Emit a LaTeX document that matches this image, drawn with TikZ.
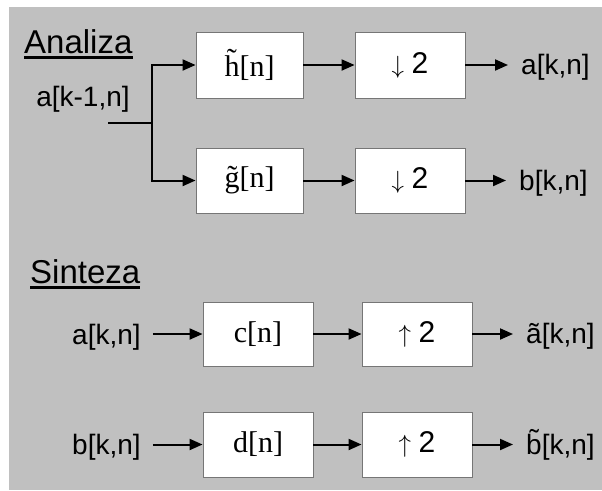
\documentclass[tikz,border=0pt]{standalone}
\usepackage{fontspec}
\setmainfont{Liberation Serif}
\newfontfamily\arialf{Liberation Sans}
\usetikzlibrary{arrows.meta}
\definecolor{bg}{RGB}{192,192,192}
\definecolor{bx}{RGB}{118,118,118}
\newcommand\tl{\char"0303}
\begin{document}
\begin{tikzpicture}[x=1pt,y=-1pt,
  blk/.style={draw=bx, line width=0.9pt, fill=white, minimum width=109pt, minimum height=65pt, inner sep=0pt, font=\fontsize{30}{32}\selectfont},
  lab/.style={inner sep=0pt, font=\arialf\fontsize{28}{30}\selectfont},
  ttl/.style={inner sep=0pt, font=\arialf\fontsize{33}{36}\selectfont},
  arr/.style={line width=2pt, -{Triangle[length=13pt,width=11pt]}},
  ln/.style={line width=2pt}]
\useasboundingbox (0,0) rectangle (602,490);
\fill[bg] (9,7) rectangle (602,490);
% titles
\node[ttl, anchor=base west] (an) at (24,53) {Analiza};
\draw[line width=2.2pt] ([yshift=-4.5pt]an.base west) -- ([yshift=-4.5pt]an.base east);
\node[ttl, anchor=base west] (sy) at (30,283) {Sinteza};
\draw[line width=2.2pt] ([yshift=-4.5pt]sy.base west) -- ([yshift=-4.5pt]sy.base east);
% analysis
\node[lab, anchor=base] (x) at (83,106) {a[k-1,n]};
\node[blk, minimum width=107pt, minimum height=66pt] (h) at (249.5,65) {h\tl[n]};
\node[blk, minimum width=107pt] (g) at (249.5,180.5) {g\tl[n]};
\node[blk, minimum width=110pt, minimum height=66pt] (d1) at (410,65) {$\downarrow$ {\arialf 2}};
\node[blk, minimum width=110pt] (d2) at (410,180.5) {$\downarrow$ {\arialf 2}};
\node[lab, anchor=base west] (ao) at (521,74) {a[k,n]};
\node[lab, anchor=base west] (bo) at (519,190) {b[k,n]};
\coordinate (in) at (108,123);
\coordinate (br) at (152,123);
\draw[ln] (in) -- (br);
\draw[arr] (br) |- (h.west);
\draw[arr] (br) |- (g.west);
\draw[arr] (h) -- (d1);
\draw[arr] (g) -- (d2);
\draw[arr] (d1.east) -- ([xshift=-13pt]d1.east -| ao.west);
\draw[arr] (d2.east) -- ([xshift=-13pt]d2.east -| bo.west);
% synthesis
\node[lab, anchor=base west] (ai) at (72,344) {a[k,n]};
\node[lab, anchor=base west] (bi) at (72,454) {b[k,n]};
\node[blk, minimum width=110pt, minimum height=64pt] (c) at (258,334) {c[n]};
\node[blk, minimum width=110pt] (d) at (258,444.5) {d[n]};
\node[blk, minimum width=110pt, minimum height=64pt] (u1) at (417,334) {$\uparrow$ {\arialf 2}};
\node[blk, minimum width=110pt] (u2) at (417,444.5) {$\uparrow$ {\arialf 2}};
\node[lab, anchor=base west] (ao2) at (526,343) {a\tl[k,n]};
\node[lab, anchor=base west] (bo2) at (526,454) {b\tl[k,n]};
\draw[arr] ([xshift=12pt]ai.east |- c.west) -- (c.west);
\draw[arr] ([xshift=12pt]bi.east |- d.west) -- (d.west);
\draw[arr] (c) -- (u1);
\draw[arr] (d) -- (u2);
\draw[arr] (u1.east) -- ([xshift=-13pt]u1.east -| ao2.west);
\draw[arr] (u2.east) -- ([xshift=-13pt]u2.east -| bo2.west);
\end{tikzpicture}
\end{document}
